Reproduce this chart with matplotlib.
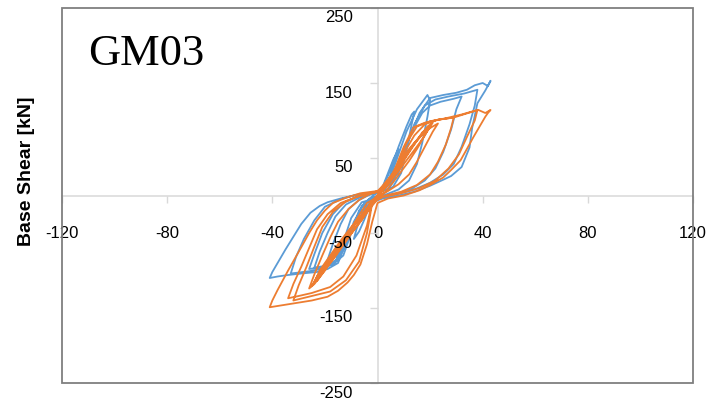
import matplotlib
matplotlib.use("Agg")
import matplotlib.pyplot as plt
from matplotlib.patches import Rectangle
from matplotlib.transforms import ScaledTranslation
import numpy as np

# displacement [mm], base shear [kN]
blue_loop = [
    (0, 0), (2, 12), (4, 30), (6, 48), (8, 62), (7, 50), (5, 28), (3, 10), (0, 0),
    (-3, -14), (-5, -32), (-7, -48), (-9, -58), (-8, -45), (-6, -25), (-4, -8), (-1, 2),
    (2, 10), (5, 35), (8, 65), (11, 92), (13, 108), (14, 112), (13, 95), (11, 60), (9, 30),
    (6, 12), (2, 2), (-3, -4), (-6, -14), (-9, -40), (-12, -65), (-15, -80), (-19, -86),
    (-17, -65), (-14, -38), (-11, -18), (-7, -6), (-3, 1), (1, 4),
    (4, 16), (7, 45), (11, 85), (15, 115), (19, 134), (20, 127), (19, 105), (17, 70),
    (15, 42), (12, 20), (8, 8), (3, 1), (-3, -5), (-7, -20), (-10, -50), (-13, -80),
    (-17, -92), (-22, -96), (-26, -98), (-24, -78), (-21, -50), (-17, -25), (-13, -10),
    (-8, -2), (-3, 3), (2, 6),
    (6, 20), (9, 50), (13, 85), (17, 110), (20, 120), (24, 125), (29, 129), (32, 132),
    (30, 115), (28, 88), (25, 58), (22, 36), (18, 20), (13, 9), (7, 2), (0, -3), (-6, -9),
    (-10, -30), (-13, -62), (-16, -88), (-20, -97), (-26, -101), (-33, -104), (-31, -82),
    (-28, -58), (-24, -33), (-20, -15), (-14, -5), (-8, 1), (-2, 4), (4, 8),
    (6, 18), (10, 55), (14, 95), (18, 120), (22, 128), (27, 132), (33, 136), (38, 141),
    (37, 120), (35, 95), (32, 65), (29, 42), (25, 28), (20, 17), (14, 8), (7, 2), (0, -3),
    (-5, -10), (-9, -35), (-12, -65), (-15, -85), (-20, -94), (-24, -96), (-22, -75),
    (-19, -50), (-16, -28), (-12, -12), (-7, -3), (-2, 3), (0, 4),
    (8, 30), (12, 75), (16, 110), (20, 130), (25, 134), (30, 137), (34, 141), (37, 147),
    (40, 150), (42, 146), (43, 153), (41, 140), (38, 123), (36, 90), (35, 64), (32, 38),
    (28, 26), (25, 21), (20, 13), (14, 5), (8, 0), (2, -4), (-3, -10), (-7, -25),
    (-10, -46), (-13, -72), (-15, -90), (-19, -98), (-23, -102), (-29, -104), (-34, -106),
    (-38, -108), (-41, -110), (-40, -102), (-38, -90), (-35, -72), (-32, -55), (-29, -38),
    (-25.5, -23), (-22, -14), (-19, -9), (-14, -4), (-9, 0), (-4, 3), (0, 5),
]

orange_loop = [
    (0, 0), (3, 15), (6, 30), (9, 45), (12, 60), (15, 73), (18, 85), (20, 93), (18, 80),
    (15, 62), (12, 46), (9, 32), (6, 18), (3, 5), (0, -5), (-3, -18), (-6, -33), (-10, -50),
    (-14, -68), (-18, -88), (-22, -106), (-25, -121), (-23, -108), (-19, -88), (-15, -68),
    (-11, -50), (-7, -32), (-4, -17), (-1, -3), (2, 8),
    (5, 22), (8, 40), (11, 55), (14, 70), (17, 82), (19, 90), (17, 84), (14, 68), (11, 52),
    (8, 36), (5, 22), (2, 8), (-1, -6), (-4, -22), (-8, -42), (-12, -60), (-16, -80),
    (-20, -98), (-24, -116), (-22, -100), (-18, -80), (-14, -60), (-10, -42), (-6, -26),
    (-3, -12), (0, 0),
    (3, 12), (7, 32), (10, 48), (13, 64), (16, 78), (19, 92), (21, 97), (19, 86), (16, 70),
    (13, 56), (10, 42), (7, 28), (4, 14), (1, 2), (-2, -10), (-5, -26), (-9, -46),
    (-13, -66), (-17, -86), (-21, -104), (-23, -114), (-21, -98), (-17, -78), (-13, -58),
    (-9, -40), (-5, -22), (-2, -8), (1, 4),
    (4, 20), (8, 42), (12, 62), (16, 78), (20, 90), (23, 96), (21, 85), (18, 65), (15, 45),
    (12, 28), (8, 15), (4, 6), (0, -2), (-4, -10), (-8, -32), (-12, -55), (-16, -78),
    (-20, -100), (-24, -118), (-26, -124), (-24, -105), (-21, -80), (-18, -56), (-15, -35),
    (-11, -18), (-7, -6), (-3, 2), (0, 6),
    (4, 18), (9, 50), (14, 80), (18, 95), (23, 101), (29, 104), (28, 90), (26, 68), (23, 45),
    (20, 28), (15, 14), (9, 5), (3, 0), (-2, -8), (-4, -40), (-8, -80), (-13, -108),
    (-18, -122), (-25, -130), (-30, -134), (-34, -137), (-32, -118), (-29, -95), (-26, -70),
    (-23, -45), (-19, -25), (-14, -10), (-8, -2), (-2, 3), (2, 6),
    (7, 35), (11, 70), (15, 92), (20, 99), (26, 103), (32, 108), (36, 112), (38, 114),
    (37, 100), (34, 78), (31, 55), (27, 36), (22, 20), (16, 10), (9, 3), (2, -2), (-2, -10),
    (-4, -50), (-7, -88), (-12, -113), (-18, -128), (-25, -134), (-32, -140), (-30, -120),
    (-27, -95), (-24, -68), (-21, -42), (-17, -22), (-12, -8), (-6, 1), (0, 5),
    (6, 30), (10, 65), (13.7, 91), (18, 97), (23, 101), (29, 104), (35.4, 111), (38.4, 114),
    (41, 110), (43, 114), (42, 110), (41, 105), (38.5, 90), (36.5, 78), (34, 62), (31.6, 47),
    (28, 34), (25, 24), (20, 14), (16, 7), (10, 0), (4, -4), (0, -10), (-2, -35),
    (-4, -65), (-6.5, -92), (-9, -106), (-11.4, -116), (-15, -127), (-19, -135), (-25, -140),
    (-32, -144), (-37, -147), (-41, -149), (-40, -140), (-38, -126), (-34, -100), (-29, -69),
    (-26, -50), (-23, -33), (-20, -20), (-17, -10), (-12, -3), (-6.5, 3), (0, 6),
]

x_ticks = [-120, -80, -40, 0, 40, 80, 120]
y_ticks = [-250, -150, -50, 50, 150, 250]

BLUE = "#5B9BD5"
ORANGE = "#ED7D31"

plt.rcParams['font.family'] = ['Liberation Sans', 'DejaVu Sans']
plt.rcParams['axes.unicode_minus'] = False

fig = plt.figure(figsize=(7.17, 4.0), dpi=100)
ax = fig.add_axes([62 / 717, 17 / 400, 631 / 717, 375 / 400])

b = np.array(blue_loop)
o = np.array(orange_loop)
ax.plot(b[:, 0], b[:, 1], color=BLUE, lw=1.3, solid_joinstyle='round', zorder=3)
ax.plot(o[:, 0], o[:, 1], color=ORANGE, lw=1.3, solid_joinstyle='round', zorder=4)

ax.set_xlim(-120, 120)
ax.set_ylim(-250, 250)

# axes through the origin, box drawn separately
for side in ['top', 'right']:
    ax.spines[side].set_visible(False)
for side in ['left', 'bottom']:
    ax.spines[side].set_position(('data', 0))
    ax.spines[side].set_color('#d9d9d9')
    ax.spines[side].set_linewidth(1.1)
    ax.spines[side].set_zorder(1)
ax.add_patch(Rectangle((0, 0), 1, 1, transform=ax.transAxes, fill=False,
                       edgecolor='#7f7f7f', lw=1.3, clip_on=False, zorder=5))

ax.set_xticks(x_ticks)
ax.set_yticks(y_ticks)
ax.tick_params(axis='x', direction='out', length=5, width=1, color='#d9d9d9',
               pad=17, labelsize=12)
ax.tick_params(axis='y', direction='out', length=6, width=1, color='#d9d9d9',
               labelleft=False)

shift = ScaledTranslation(-0.25, -0.10, fig.dpi_scale_trans)
for v in y_ticks:
    ax.text(0, v, str(v), transform=ax.transData + shift, ha='right', va='center',
            fontsize=12, zorder=6)

fig.text(27 / 717, 1 - 171 / 400, 'Base Shear [kN]', rotation=90, ha='center',
         va='center', fontsize=14, fontweight='bold',
         family=['Liberation Sans Narrow', 'Liberation Sans', 'DejaVu Sans'])
fig.text(88 / 717, 1 - 65 / 400, 'GM03', fontsize=32, va='baseline', ha='left',
         family=['Liberation Serif', 'DejaVu Serif'])

fig.savefig('out.png', dpi=100)
